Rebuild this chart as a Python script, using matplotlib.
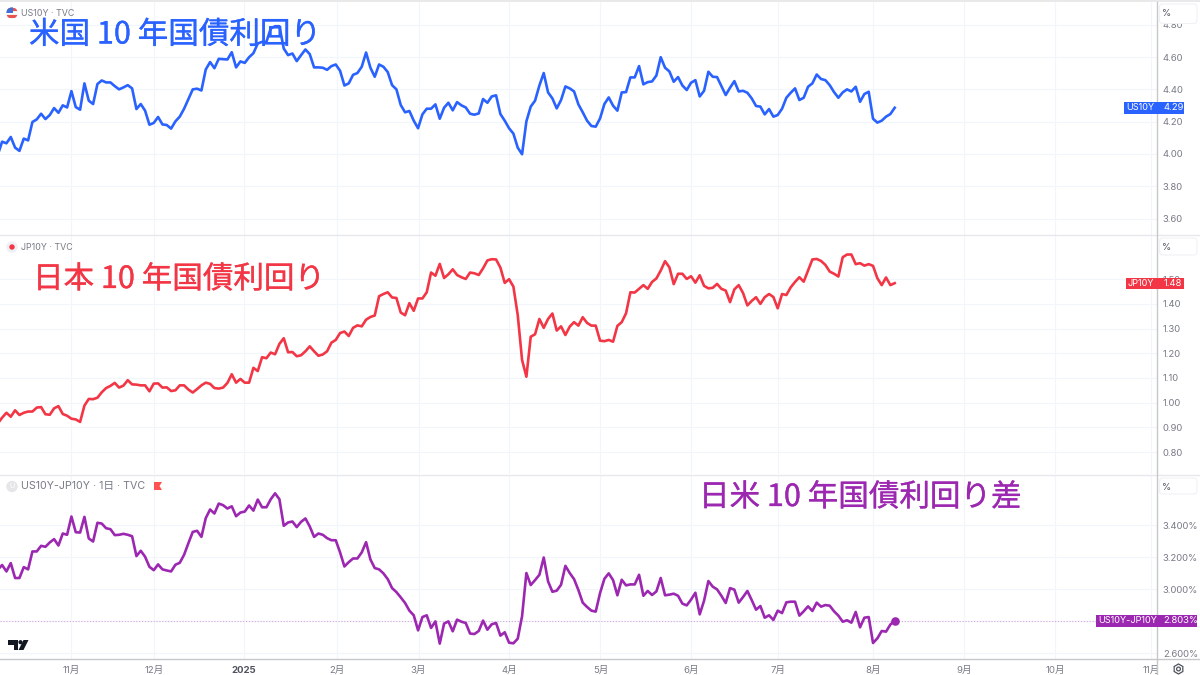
import matplotlib
matplotlib.use("Agg")
import numpy as np
import matplotlib.pyplot as plt
import matplotlib.patheffects as pe
from matplotlib.patches import Circle, FancyBboxPatch, Polygon, Rectangle, RegularPolygon

plt.rcParams['font.family'] = ['Inter', 'Noto Sans CJK JP', 'DejaVu Sans']

# ---- data ----
us10y = [3.994,4.076,4.066,4.105,4.039,4.019,4.095,4.084,4.198,4.214,4.249,4.216,4.241,4.284,4.255,4.301,4.288,4.389,4.290,4.274,
         4.437,4.330,4.309,4.433,4.455,4.443,4.443,4.420,4.400,4.412,4.426,4.406,4.278,4.309,4.268,4.181,4.192,4.229,4.183,4.179,
         4.157,4.202,4.231,4.280,4.340,4.400,4.404,4.393,4.523,4.569,4.531,4.589,4.587,4.585,4.630,4.536,4.573,4.564,4.599,4.624,
         4.684,4.694,4.694,4.777,4.791,4.791,4.653,4.612,4.622,4.575,4.612,4.647,4.618,4.536,4.536,4.534,4.521,4.544,4.554,4.515,
         4.424,4.437,4.490,4.501,4.540,4.628,4.534,4.478,4.554,4.540,4.507,4.426,4.400,
         4.303,4.258,4.266,4.206,4.159,4.245,4.280,4.280,4.307,4.218,4.286,4.317,4.270,4.321,4.301,4.288,4.249,4.243,4.251,4.340,
         4.317,4.356,4.363,4.247,4.206,4.159,4.126,4.039,3.998,4.202,4.293,4.330,4.424,4.501,4.381,4.344,4.282,4.334,4.418,4.406,
         4.387,4.307,4.258,4.206,4.173,4.169,4.220,4.309,4.350,4.299,4.268,4.381,4.383,4.474,4.474,4.544,4.431,4.445,4.449,4.486,
         4.599,4.534,4.511,4.447,4.476,4.424,4.396,4.441,4.457,4.356,4.391,4.509,4.478,4.476,4.420,4.365,4.410,4.451,4.387,4.391,
         4.379,4.344,4.297,4.293,4.245,4.278,4.231,4.241,4.280,4.348,4.379,4.406,4.334,4.348,4.416,4.437,4.492,4.464,4.457,4.426,
         4.383,4.348,4.381,4.400,4.387,4.416,4.323,4.371,4.385,4.218,4.194,4.206,4.231,4.247,4.286]

jp10y = [0.916,0.939,0.959,0.943,0.969,0.950,0.959,0.964,0.964,0.980,0.982,0.953,0.951,0.977,0.986,0.954,0.947,0.935,0.932,0.922,
         0.988,1.015,1.014,1.020,1.042,1.059,1.068,1.080,1.061,1.069,1.091,1.074,1.073,1.070,1.070,1.046,1.077,1.078,1.061,1.062,
         1.047,1.050,1.070,1.070,1.053,1.041,1.055,1.070,1.081,1.076,1.059,1.057,1.061,1.080,1.115,1.081,1.096,1.081,1.081,1.141,
         1.128,1.184,1.180,1.203,1.196,1.238,1.261,1.204,1.205,1.188,1.192,1.208,1.228,1.208,1.190,1.195,1.208,1.243,1.254,1.282,
         1.288,1.270,1.303,1.313,1.309,1.336,1.347,1.353,1.431,1.440,1.447,1.426,1.424,
         1.365,1.354,1.403,1.372,1.422,1.422,1.447,1.527,1.514,1.562,1.505,1.520,1.540,1.517,1.508,1.501,1.527,1.524,1.517,1.544,
         1.576,1.581,1.580,1.547,1.485,1.500,1.470,1.355,1.173,1.105,1.267,1.277,1.339,1.303,1.339,1.361,1.292,1.309,1.274,1.308,
         1.326,1.312,1.346,1.323,1.312,1.312,1.251,1.249,1.254,1.247,1.311,1.326,1.362,1.447,1.446,1.461,1.476,1.461,1.489,1.503,
         1.535,1.573,1.548,1.480,1.522,1.522,1.501,1.512,1.486,1.516,1.473,1.463,1.465,1.481,1.461,1.454,1.407,1.459,1.476,1.444,
         1.394,1.412,1.427,1.400,1.427,1.440,1.428,1.382,1.440,1.436,1.467,1.489,1.508,1.490,1.535,1.580,1.582,1.574,1.558,1.531,
         1.522,1.511,1.589,1.600,1.600,1.561,1.565,1.555,1.561,1.554,1.504,1.476,1.507,1.476,1.484]

spread = [3.121,3.150,3.110,3.162,3.069,3.069,3.137,3.123,3.235,3.235,3.270,3.264,3.291,3.312,3.272,3.347,3.339,3.453,3.355,3.353,
          3.451,3.316,3.297,3.414,3.409,3.380,3.374,3.337,3.339,3.345,3.339,3.330,3.206,3.239,3.202,3.139,3.118,3.154,3.123,3.116,
          3.110,3.152,3.164,3.214,3.287,3.357,3.364,3.326,3.443,3.497,3.472,3.534,3.524,3.503,3.517,3.455,3.478,3.484,3.522,3.490,
          3.559,3.511,3.511,3.561,3.598,3.561,3.395,3.416,3.422,3.387,3.420,3.441,3.391,3.326,3.347,3.339,3.318,3.305,3.305,3.229,
          3.141,3.168,3.191,3.191,3.229,3.293,3.185,3.131,3.123,3.098,3.062,3.006,2.981,
          2.948,2.913,2.865,2.836,2.742,2.825,2.836,2.757,2.798,2.659,2.784,2.798,2.736,2.809,2.796,2.788,2.722,2.719,2.738,2.803,
          2.746,2.780,2.788,2.709,2.730,2.665,2.661,2.690,2.830,3.100,3.025,3.056,3.089,3.197,3.048,2.983,2.990,3.027,3.145,3.100,
          3.062,2.994,2.915,2.888,2.865,2.859,2.975,3.064,3.098,3.056,2.961,3.058,3.023,3.029,3.029,3.089,2.958,2.988,2.963,2.985,
          3.069,2.961,2.965,2.971,2.958,2.909,2.898,2.934,2.977,2.842,2.927,3.050,3.015,2.998,2.958,2.913,3.006,2.996,2.915,2.950,
          2.988,2.931,2.871,2.894,2.821,2.836,2.807,2.865,2.850,2.917,2.921,2.921,2.834,2.861,2.892,2.863,2.915,2.890,2.900,2.896,
          2.861,2.834,2.796,2.805,2.790,2.857,2.761,2.821,2.825,2.663,2.692,2.738,2.734,2.778,2.803]

month_labels = ['11月', '12月', '2025', '2月', '3月', '4月', '5月', '6月', '7月', '8月', '9月', '10月', '11月']
# month starts, in bars before (-) or after (+) the last bar
month_bars = [-190.0, -170.9, -150.2, -128.8, -109.9, -88.9, -67.9, -46.9, -26.9, -5.0, 16.0, 37.0, 59.2]

us_ticks = [3.6, 3.8, 4.0, 4.2, 4.4, 4.6, 4.8]
jp_ticks = [0.8, 0.9, 1.0, 1.1, 1.2, 1.3, 1.4, 1.5]
sp_ticks = [2.6, 2.8, 3.0, 3.2, 3.4]

BLUE, RED, PURPLE = '#2962FF', '#F23645', '#9C27B0'
GRID, GRAY = '#F2F5FB', '#787B86'

W, H = 1200, 675
fig = plt.figure(figsize=(12, 6.75), dpi=100, facecolor='white')
AX_R = 1156.5
BAR = 4.333
LAST_PX = 894.7


def panel(top, bottom, ylim, ticks, fmt, values, color):
    ax = fig.add_axes([0, 1 - bottom / H, AX_R / W, (bottom - top) / H])
    x = np.arange(len(values)) - (len(values) - 1)
    ax.plot(x, values, color=color, lw=1.9, solid_joinstyle='round', zorder=3)
    ax.set_xlim(-LAST_PX / BAR, (AX_R - LAST_PX) / BAR)
    ax.set_ylim(*ylim)
    ax.set_xticks(month_bars)
    ax.set_xticklabels([])
    ax.set_yticks(ticks)
    ax.set_yticklabels([fmt % t for t in ticks])
    ax.yaxis.tick_right()
    ax.tick_params(axis='y', length=0, pad=4.6, labelsize=6.8, labelcolor=GRAY)
    ax.tick_params(axis='x', length=0)
    ax.grid(True, color=GRID, lw=0.85, zorder=0)
    ax.set_axisbelow(True)
    for s in ax.spines.values():
        s.set_visible(False)
    return ax


ax1 = panel(2, 235, (3.498, 4.941), us_ticks, '%.2f', us10y, BLUE)
ax2 = panel(236, 474, (0.711, 1.675), jp_ticks, '%.2f', jp10y, RED)
ax3 = panel(475, 659, (2.563, 3.7125), sp_ticks, '%.3f%%', spread, PURPLE)

ax3.set_xticklabels(month_labels)
ax3.tick_params(axis='x', pad=4.8, labelsize=6.9, labelcolor=GRAY)
for lab in ax3.get_xticklabels():
    if lab.get_text() == '2025':
        lab.set_fontweight('bold')
        lab.set_color('#50535E')
ax3.axhline(spread[-1], color='#D9A6E2', lw=0.8, ls=(0, (1, 1.6)), zorder=1)
ax3.plot([0], [spread[-1]], 'o', color=PURPLE, ms=6.2, zorder=4, mec='none')

# ---- overlay in pixel coordinates: chrome, labels, titles ----
ov = fig.add_axes([0, 0, 1, 1], zorder=10)
ov.set_xlim(0, W)
ov.set_ylim(H, 0)
ov.axis('off')
ov.patch.set_alpha(0)

ov.add_patch(Rectangle((0, 0), W, 2, color='#E9E9EA', lw=0))
for y in (235.3, 474.5):
    ov.plot([0, W], [y, y], color='#E6E8EE', lw=1.0)
ov.plot([AX_R, AX_R], [2, 675], color='#C6C7CB', lw=1.0)
ov.plot([0, W], [659, 659], color='#C6C7CB', lw=1.0)

# "%" boxes
for top, h in ((4, 19.5), (238, 17), (478, 16)):
    ov.add_patch(FancyBboxPatch((1159.5, top), 37.5, h, boxstyle='round,pad=0,rounding_size=3',
                                fc='white', ec='#F0F1F4', lw=0.8, zorder=3))
    ov.text(1162, top + 9, '%', fontsize=6.8, color='#50535E', va='center', zorder=4)


# price labels
def price_label(x0, x1, yc, name, val, color, val_x):
    ov.add_patch(Rectangle((x0, yc - 5.8), x1 - x0, 11.6, color=color, lw=0, zorder=5))
    ov.text(x0 + 2.5, yc, name, color='white', fontsize=6.6, va='center', zorder=6)
    ov.text(val_x, yc, val, color='white', fontsize=6.8, va='center', zorder=6)


price_label(1124, 1184, 108, 'US10Y', '%.2f' % us10y[-1], BLUE, 1163)
price_label(1125.5, 1184, 283.5, 'JP10Y', '%.2f' % jp10y[-1], RED, 1163.5)
price_label(1095.7, 1196.5, 620.8, 'US10Y-JP10Y', '%.3f%%' % spread[-1], PURPLE, 1163.5)

# legends
ov.text(21, 13.5, 'US10Y · TVC', fontsize=6.4, color=GRAY, va='center')
ov.text(21, 247, 'JP10Y · TVC', fontsize=6.4, color=GRAY, va='center')
ov.text(21, 486.5, 'US10Y-JP10Y · 1日 · TVC', fontsize=7.7, color=GRAY, va='center')

# legend icons
flag = Circle((12, 13), 5.7, fc='#F0F0F0', ec='none')
ov.add_patch(flag)
for yy, c in ((9.3, '#E8534F'), (12.8, 'white'), (16.3, '#E8534F')):
    ov.add_patch(Rectangle((6, yy - 1.2), 12, 2.4, color=c, lw=0, clip_path=flag))
ov.add_patch(Rectangle((6, 7), 6.5, 5.6, color='#3F6FD8', lw=0, clip_path=flag))
ov.add_patch(Circle((12, 247), 5.7, fc='#EEF0F6', ec='none'))
ov.add_patch(Circle((12, 247), 2.7, fc='#F23645', ec='none'))
ov.add_patch(Circle((12, 486.5), 5.7, fc='#E6E6E8', ec='none'))
ov.text(12, 486.5, 'U', fontsize=5, color='white', ha='center', va='center')
ov.add_patch(Polygon([(154, 482), (162, 482), (159.5, 486), (162, 490), (154, 490)], fc='#FF5252', ec='none'))

# TradingView logo
ov.add_patch(Polygon([(8, 640), (18, 640), (18, 650), (13.5, 650), (13.5, 644.5), (8, 644.5)], fc='#131722', ec='none'))
ov.add_patch(Circle((20.5, 642.2), 2.1, fc='#131722', ec='none'))
ov.add_patch(Polygon([(23.5, 640), (28.5, 640), (23.5, 650), (18.5, 650)], fc='#131722', ec='none'))

# settings icon
ov.add_patch(RegularPolygon((1178.5, 669), 6, radius=5, fc='none', ec='#50535E', lw=0.9))
ov.add_patch(Circle((1178.5, 669), 1.9, fc='none', ec='#50535E', lw=0.9))


# annotations
def note(x, y, s, color):
    t = ov.text(x, y, s, color=color, fontsize=22.0, family='Noto Sans CJK JP', va='center', zorder=7)
    t.set_path_effects([pe.withStroke(linewidth=0.2, foreground=color)])


note(29, 35, '米国 10 年国債利回り', BLUE)
note(33, 279.5, '日本 10 年国債利回り', RED)
note(699, 497.5, '日米 10 年国債利回り差', PURPLE)

fig.savefig('out.png', dpi=100)
